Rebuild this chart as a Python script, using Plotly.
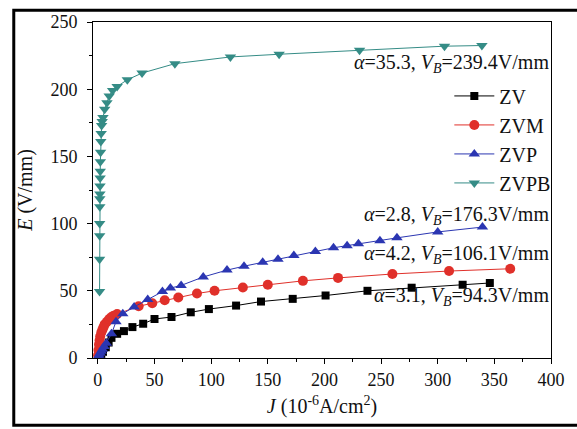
import plotly.graph_objects as go

# ZV (black squares)
zv_j = [0.5, 1.5, 3, 4.5, 7, 9.5, 12, 17, 23, 30.5, 40, 50, 65, 82, 98, 122, 144, 172, 201, 238, 277, 322, 346]
zv_e = [0.3, 1.5, 3, 4.6, 8, 11.5, 15, 18, 20, 23, 25.5, 29, 30.5, 34, 36.4, 39, 42, 44, 46.5, 50, 52.3, 54.5, 55.8]

# ZVM (red circles)
zvm_j = [0.2, 0.5, 1, 1.5, 2, 3, 4, 5, 6, 8, 10, 12, 14, 17, 36, 48, 59, 71, 87.5, 103, 128, 150, 181, 212, 260, 310, 364]
zvm_e = [2, 6, 10, 13, 16, 19, 21, 23, 25, 27, 29, 30.5, 31.5, 32.7, 38.5, 40.7, 43, 45, 48, 50, 52.5, 54.5, 57.4, 59.6, 62.5, 64.7, 66.4]

# ZVP (blue up-triangles)
zvp_j = [0.5, 1, 2, 3, 4, 5.5, 7.5, 12, 16, 22, 32, 44, 57, 64, 73.5, 93, 114, 129, 145.5, 159, 173, 192, 208, 220, 230, 249, 264, 300, 339.5]
zvp_e = [1, 2, 3.5, 5, 6.5, 8.5, 11, 18, 27, 33, 38, 43.5, 49.4, 52, 54, 60.3, 65.4, 68.3, 71.2, 73.4, 76.3, 79.2, 82, 83.6, 85, 87.2, 89.4, 93.8, 97.4]

# ZVPB (teal down-triangles)
zvpb_j = [1.5, 1.5, 1.6, 1.6, 1.7, 1.7, 1.8, 1.9, 2.0, 2.1, 2.2, 2.4, 2.6, 2.9, 3.3, 3.8, 4.5, 6, 8, 10, 13, 17, 26, 39, 68, 117, 160, 231, 306, 339]
zvpb_e = [49.4, 73.4, 91, 100, 112.6, 118.5, 122, 128, 134, 139, 146, 153, 161, 167, 173, 176, 179, 185, 190, 195, 199, 202, 207, 212, 219, 224, 226, 229, 232, 232.5]

x_ticks = [0, 50, 100, 150, 200, 250, 300, 350, 400]
y_ticks = [0, 50, 100, 150, 200, 250]

annot_texts = [
    "<i>α</i>=35.3, <i>V</i><sub><i>B</i></sub>=239.4V/mm",
    "<i>α</i>=2.8, <i>V</i><sub><i>B</i></sub>=176.3V/mm",
    "<i>α</i>=4.2, <i>V</i><sub><i>B</i></sub>=106.1V/mm",
    "<i>α</i>=3.1, <i>V</i><sub><i>B</i></sub>=94.3V/mm",
]
annot_y = [219, 106, 77, 46]

FONT = "Liberation Serif"

fig = go.Figure()
series = [
    ("ZV", zv_j, zv_e, "#000000", "square", 8),
    ("ZVM", zvm_j, zvm_e, "#e0302a", "circle", 10),
    ("ZVP", zvp_j, zvp_e, "#2b36b2", "triangle-up", 10),
    ("ZVPB", zvpb_j, zvpb_e, "#358c86", "triangle-down", 10),
]
for name, xs, ys, col, sym, sz in series:
    fig.add_trace(go.Scatter(
        x=xs, y=ys, name=name, mode="lines+markers",
        line=dict(color=col, width=1),
        marker=dict(symbol=sym, size=sz, color=col),
    ))

for txt, yv in zip(annot_texts, annot_y):
    fig.add_annotation(x=1.0, xref="paper", y=yv, yref="y", text=txt,
                       showarrow=False, xanchor="right", yanchor="middle",
                       font=dict(family=FONT, size=20, color="#111"))

fig.add_shape(type="rect", xref="paper", yref="paper",
              x0=-0.173, x1=1.1, y0=-0.2, y1=1.035,
              line=dict(color="black", width=3), layer="below")

axis_common = dict(
    showline=True, linecolor="black", linewidth=1, mirror=True,
    ticks="outside", ticklen=5, tickcolor="black", showgrid=False, zeroline=False,
    tickfont=dict(family=FONT, size=18, color="#111"),
    minor=dict(ticks="outside", ticklen=3, tickcolor="black", dtick=25),
)
fig.update_xaxes(range=[-4.3, 400], tickvals=x_ticks, **axis_common,
                 title=dict(text="<i>J</i> (10<sup>-6</sup>A/cm<sup>2</sup>)", standoff=10,
                            font=dict(family=FONT, size=20, color="#111")))
fig.update_yaxes(range=[0, 250], tickvals=y_ticks, **axis_common, ticklabelstandoff=6,
                 title=dict(text="<i>E</i> (V/mm)", standoff=12,
                            font=dict(family=FONT, size=20, color="#111")))

fig.update_layout(
    width=577, height=429,
    margin=dict(l=93, r=16, t=13, b=71),
    plot_bgcolor="white", paper_bgcolor="white",
    legend=dict(x=0.778, y=0.838, xanchor="left", yanchor="top",
                font=dict(family=FONT, size=20, color="#111"),
                bgcolor="rgba(0,0,0,0)", tracegroupgap=0, itemwidth=40),
    showlegend=True,
)
fig.write_html("out.html")
